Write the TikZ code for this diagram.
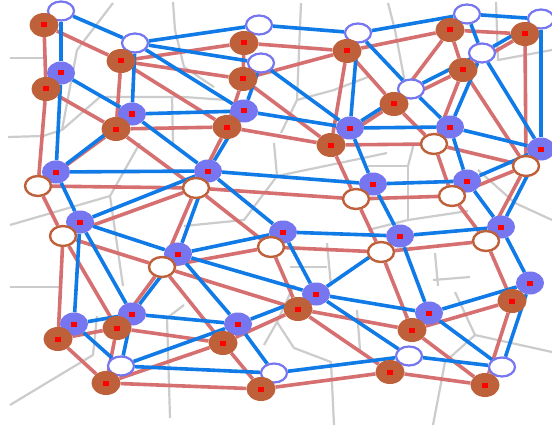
\documentclass[tikz,border=0pt]{standalone}
\usetikzlibrary{shapes.geometric}
\definecolor{bedge}{RGB}{16,122,230}
\definecolor{redge}{RGB}{214,112,112}
\definecolor{bnode}{RGB}{118,118,240}
\definecolor{rnode}{RGB}{190,96,58}
\definecolor{gline}{RGB}{204,204,204}
\pgfdeclarelayer{bg}
\pgfdeclarelayer{edges}
\pgfsetlayers{bg,edges,main}
\tikzset{
  sqmark/.style={path picture={\fill[red]
      ([xshift=-3pt,yshift=-2.5pt]path picture bounding box.center) rectangle
      ([xshift=3pt,yshift=2.5pt]path picture bounding box.center);}},
  bfill/.style={ellipse, fill=bnode, minimum width=28pt, minimum height=23pt, inner sep=0pt, sqmark},
  rfill/.style={ellipse, fill=rnode, minimum width=29pt, minimum height=24pt, inner sep=0pt, sqmark},
  bhollow/.style={ellipse, fill=white, draw=bnode, line width=2.2pt, minimum width=26pt, minimum height=19pt, inner sep=0pt},
  rhollow/.style={ellipse, fill=white, draw=rnode, line width=2.4pt, minimum width=26pt, minimum height=20pt, inner sep=0pt},
  be/.style={bedge, line width=3.6pt},
  re/.style={redge, line width=3.6pt},
  ge/.style={gline, line width=2.2pt, line join=round}
}
\begin{document}
\begin{tikzpicture}[x=1pt,y=-1pt]
\useasboundingbox (0,0) rectangle (552,428);
% blue filled nodes
\node[bfill] (B1) at (61,73) {};
\node[bfill] (B2) at (132,114) {};
\node[bfill] (B3) at (244,111) {};
\node[bfill] (B4) at (350,128) {};
\node[bfill] (B5) at (450,127) {};
\node[bfill] (B6) at (541,149) {};
\node[bfill] (B7) at (56,172) {};
\node[bfill] (B8) at (208,171) {};
\node[bfill] (B9) at (373,184) {};
\node[bfill] (B10) at (467,181) {};
\node[bfill] (B11) at (80,222) {};
\node[bfill] (B12) at (178,254) {};
\node[bfill] (B13) at (283,232) {};
\node[bfill] (B14) at (400,236) {};
\node[bfill] (B15) at (501,227) {};
\node[bfill] (B16) at (530,283) {};
\node[bfill] (B17) at (316,294) {};
\node[bfill] (B18) at (429,313) {};
\node[bfill] (B19) at (74,324) {};
\node[bfill] (B20) at (132,314) {};
\node[bfill] (B21) at (238,324) {};
% blue hollow nodes
\node[bhollow] (H1) at (61,11) {};
\node[bhollow] (H2) at (135,43) {};
\node[bhollow] (H3) at (259,25) {};
\node[bhollow] (H4) at (261,63) {};
\node[bhollow] (H5) at (358,33) {};
\node[bhollow] (H6) at (467,14) {};
\node[bhollow] (H7) at (482,53) {};
\node[bhollow] (H8) at (411,89) {};
\node[bhollow] (H9) at (121,366) {};
\node[bhollow] (H10) at (274,373) {};
\node[bhollow] (H11) at (409,356) {};
\node[bhollow] (H12) at (502,367) {};
\node[bhollow] (H13) at (541,19) {};
% brown filled nodes
\node[rfill] (R1) at (44,25) {};
\node[rfill] (R2) at (121,61) {};
\node[rfill] (R3) at (244,43) {};
\node[rfill] (R4) at (347,51) {};
\node[rfill] (R5) at (450,30) {};
\node[rfill] (R6) at (525,34) {};
\node[rfill] (R7) at (46,89) {};
\node[rfill] (R8) at (243,79) {};
\node[rfill] (R9) at (463,70) {};
\node[rfill] (R10) at (394,104) {};
\node[rfill] (R11) at (116,129) {};
\node[rfill] (R12) at (227,127) {};
\node[rfill] (R13) at (331,145) {};
\node[rfill] (R14) at (117,328) {};
\node[rfill] (R15) at (58,339) {};
\node[rfill] (R16) at (223,343) {};
\node[rfill] (R17) at (298,309) {};
\node[rfill] (R18) at (412,330) {};
\node[rfill] (R19) at (512,301) {};
\node[rfill] (R20) at (106,383) {};
\node[rfill] (R21) at (261,389) {};
\node[rfill] (R22) at (390,372) {};
\node[rfill] (R23) at (485,385) {};
% brown hollow nodes
\node[rhollow] (O1) at (38,186) {};
\node[rhollow] (O2) at (196,188) {};
\node[rhollow] (O3) at (434,144) {};
\node[rhollow] (O4) at (526,166) {};
\node[rhollow] (O5) at (356,199) {};
\node[rhollow] (O6) at (452,196) {};
\node[rhollow] (O7) at (63,236) {};
\node[rhollow] (O8) at (162,267) {};
\node[rhollow] (O9) at (271,247) {};
\node[rhollow] (O10) at (381,252) {};
\node[rhollow] (O11) at (486,241) {};

\begin{pgfonlayer}{edges}
\foreach \a/\b in {R1/R7,R1/R2,R2/R3,R2/R8,R2/R11,R2/R12,R7/R11,R7/O1,R11/R12,R11/O2,R11/O1,
  R3/R8,R3/R4,R8/R4,R8/R12,R8/R13,R4/R13,R4/R5,R5/R6,R5/R9,R5/R10,R6/R9,R6/O4,R9/R10,R9/O3,R9/O4,
  R4/R10,R10/R13,R10/O3,R12/R13,R13/O3,R13/O5,R12/O2,O1/O2,O2/O5,O2/O9,O2/O8,O1/O7,O7/O8,O7/O2,
  O7/R15,O7/R14,O8/R14,O8/O9,O8/R16,O8/R17,O9/O10,O9/R17,O5/O10,O3/O6,O3/O4,O4/O6,O4/O11,O5/O6,
  O6/O11,O10/O11,O10/R18,O11/R19,R17/R16,R17/R18,R17/R22,R16/R21,R16/R20,R14/R20,R15/R20,R14/R15,
  R14/R16,R20/R21,R21/R22,R22/R23,R18/R23,R18/R19,R19/R23}
  \draw[re] (\a) -- (\b);
\foreach \a/\b in {H1/H2,H1/B1,B1/B2,B1/B7,H2/B2,H2/H3,H2/H4,H2/B3,H3/H5,H4/B3,H4/B4,H5/B4,H5/H6,
  H5/H8,H6/H13,H6/H7,H7/H13,H13/B6,H7/B6,H7/H8,H7/B5,H8/B4,H8/B5,B4/B5,B5/B10,B5/B6,B10/B6,B10/B15,
  B15/B6,B15/B16,B14/B15,B9/B14,B14/B18,B8/B9,B4/B9,B9/B10,B7/B8,B2/B8,B3/B8,B8/B13,B8/B12,B12/B13,
  B13/B14,B13/B17,B12/B17,B11/B12,B7/B11,B8/B11,B11/B19,B11/B20,B12/B20,B12/B21,B21/B17,B14/B17,
  B17/H11,B17/B18,B20/B21,B19/B20,B19/H9,B20/H9,H9/B21,H9/H10,B21/H10,H10/H11,H11/H12,B18/H12,
  B16/H12,B18/B16,B2/B3,B2/B7,B3/B4}
  \draw[be] (\a) -- (\b);
\end{pgfonlayer}

\begin{pgfonlayer}{bg}
\fill[white] (0,0) rectangle (552,428);
\draw[ge] (10,58) -- (45,58);
\draw[ge] (8,137) -- (43,136) -- (62,130) -- (100,97) -- (140,97) -- (184,97) -- (227,100);
\draw[ge] (77,50) -- (113,3);
\draw[ge] (77,50) -- (62,130);
\draw[ge] (173,2) -- (175,30) -- (184,67) -- (214,87);
\draw[ge] (172,97) -- (173,143);
\draw[ge] (301,3) -- (297,100) -- (281,133);
\draw[ge] (297,100) -- (334,90) -- (368,77);
\draw[ge] (388,3) -- (395,30) -- (405,83);
\draw[ge] (496,2) -- (498,60) -- (552,50);
\draw[ge] (10,225) -- (110,196) -- (140,143);
\draw[ge] (110,196) -- (123,286);
\draw[ge] (274,143) -- (277,176) -- (244,220) -- (184,226);
\draw[ge] (277,176) -- (330,165) -- (387,153);
\draw[ge] (327,243) -- (331,286);
\draw[ge] (368,166) -- (408,166) -- (408,220);
\draw[ge] (408,166) -- (414,143);
\draw[ge] (408,220) -- (468,211);
\draw[ge] (408,220) -- (368,230);
\draw[ge] (478,170) -- (515,203) -- (552,220);
\draw[ge] (435,253) -- (438,286);
\draw[ge] (433,280) -- (470,277);
\draw[ge] (290,267) -- (327,267);
\draw[ge] (10,287) -- (60,287);
\draw[ge] (10,405) -- (93,355) -- (97,316);
\draw[ge] (167,318) -- (170,418);
\draw[ge] (167,318) -- (184,305);
\draw[ge] (264,345) -- (277,322) -- (294,348) -- (331,362) -- (334,425);
\draw[ge] (277,322) -- (294,285);
\draw[ge] (445,362) -- (433,425);
\draw[ge] (455,292) -- (475,335) -- (552,352);
\draw[ge] (475,335) -- (445,362);
\draw[ge] (357,310) -- (360,350);
\end{pgfonlayer}
\end{tikzpicture}
\end{document}
